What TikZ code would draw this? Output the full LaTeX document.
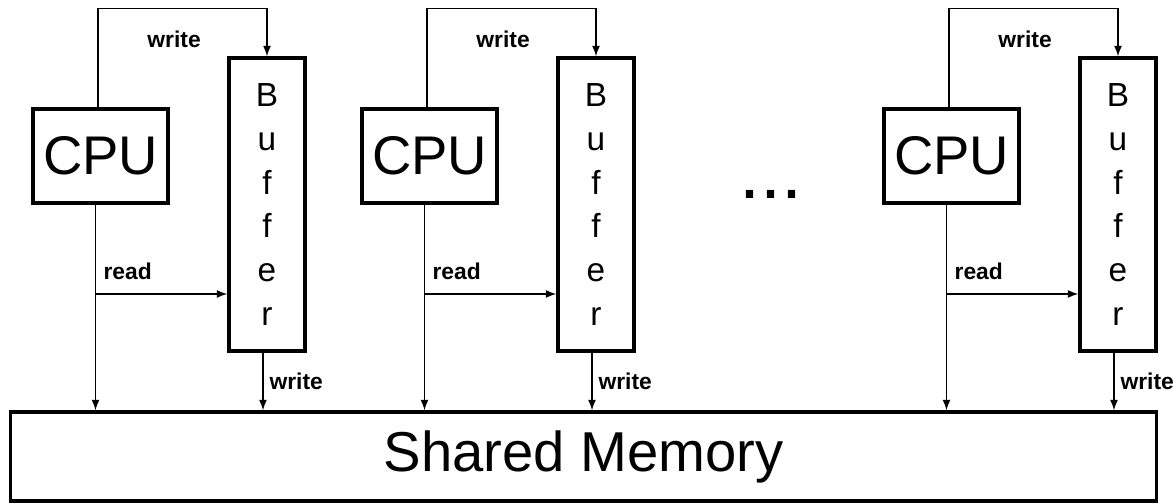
\documentclass[tikz,border=0pt]{standalone}
\usepackage{fontspec}
\setmainfont{Liberation Sans}
\usetikzlibrary{arrows.meta}

\begin{document}
\begin{tikzpicture}[x=0.02cm,y=0.02cm,
  box/.style={draw,line width=1.8pt,inner sep=0pt},
  conn/.style={draw,line width=0.9pt,-{Latex[length=6pt,width=4.5pt]}},
  lbl/.style={font=\fontsize{13}{13}\selectfont\bfseries,inner sep=1pt}]
\useasboundingbox (0,0) rectangle (1173,503);
\node [box,minimum width=22.94cm,minimum height=1.78cm,font=\fontsize{32}{32}\selectfont] (mem) at (583.5,46.5) {Shared Memory};
\foreach \i/\dx in {1/0,2/329,3/851} {
  \node [box,minimum width=2.7cm,minimum height=1.88cm,font=\fontsize{31}{31}\selectfont] (cpu\i) at (\dx+100.5,347) {CPU};
  \node [box,minimum width=1.52cm,minimum height=5.86cm,align=center,font=\fontsize{19}{25}\selectfont] (buf\i) at (\dx+267,298.5) {B\\u\\f\\f\\e\\r};
  \coordinate (rd\i) at ([xshift=-0.1cm]cpu\i.south |- 0,209);
  % cpu writes into its buffer
  \path [conn] ([xshift=-0.05cm]cpu\i.north) -- ++(0,99) -| node [lbl,pos=0.225,below=0.4cm] {write} (buf\i.north);
  % cpu reads from memory and buffer
  \path [conn] (rd\i |- cpu\i.south) -- (rd\i |- mem.north);
  \path [conn] (rd\i) -- (rd\i -| buf\i.west);
  \node [lbl,anchor=base west] at ([shift={(0.12cm,0.28cm)}]rd\i) {read};
  % buffer flushes to memory
  \path [conn] ([xshift=-0.08cm]buf\i.south) -- node [lbl,right=0.08cm] {write} ([xshift=-0.08cm]buf\i.south |- mem.north);
}
\node [font=\fontsize{43}{43}\selectfont,anchor=base] (dots) at (771,304) {...};
\end{tikzpicture}
\end{document}
